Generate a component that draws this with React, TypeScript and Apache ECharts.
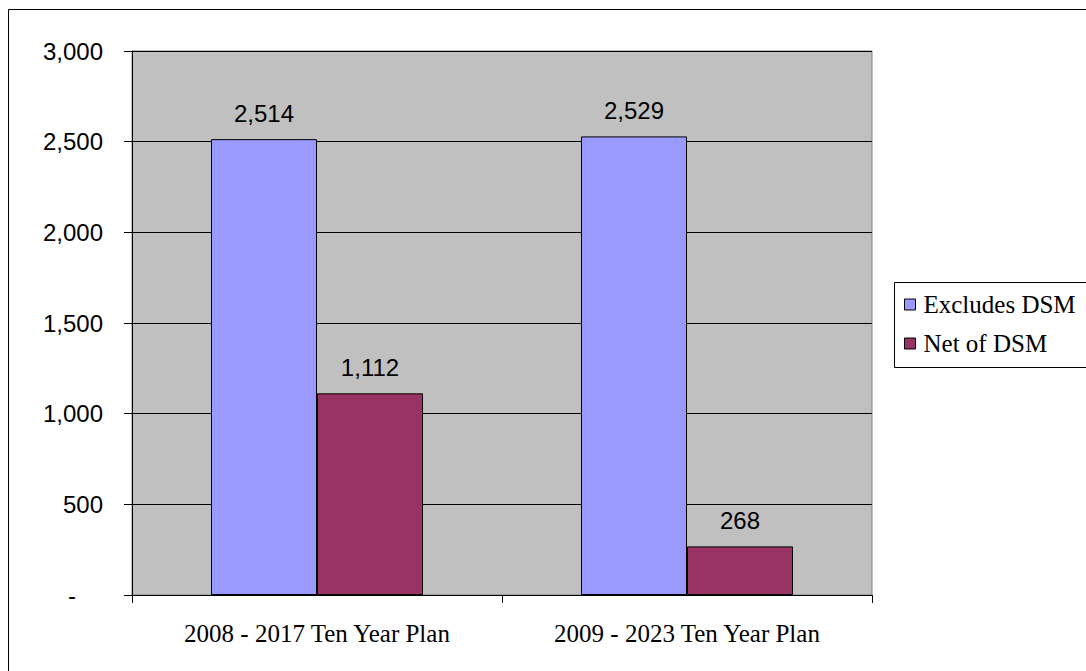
import React, { useEffect, useRef } from "react";
import * as echarts from "echarts";

const categories = ["2008 - 2017 Ten Year Plan", "2009 - 2023 Ten Year Plan"];
const seriesNames = ["Excludes DSM", "Net of DSM"];
const excludesDSM = [2514, 2529];
const netOfDSM = [1112, 268];
const seriesColors = ["#9999FF", "#993366"];
const yTicks = { min: 0, max: 3000, interval: 500 };

const fmt = (v: number) => (v === 0 ? "{d|-}" : Number(v).toLocaleString("en-US"));

export default function App() {
  const ref = useRef<HTMLDivElement>(null);
  useEffect(() => {
    if (!ref.current) return;
    const chart = echarts.init(ref.current, undefined, { renderer: "svg" });
    const dataSets = [excludesDSM, netOfDSM];
    chart.setOption({
      animation: false,
      backgroundColor: "#ffffff",
      grid: {
        left: 132,
        right: 214,
        top: 51,
        bottom: 76,
        show: true,
        backgroundColor: "#C0C0C0",
        borderColor: "#808080",
        borderWidth: 1,
      },
      graphic: [
        {
          type: "rect",
          shape: { x: 8.5, y: 9.5, width: 1100, height: 700 },
          style: { fill: "none", stroke: "#000000", lineWidth: 1 },
          silent: true,
          z: -1,
        },
        {
          type: "rect",
          shape: { x: 894.5, y: 282.5, width: 300, height: 85 },
          style: { fill: "#ffffff", stroke: "#000000", lineWidth: 1 },
          silent: true,
          z: 0,
        },
      ],
      legend: {
        orient: "vertical",
        left: 904,
        top: 292,
        padding: 0,
        itemGap: 14,
        itemWidth: 11,
        itemHeight: 11,
        icon: "rect",
        z: 10,
        textStyle: {
          fontFamily: "Liberation Serif",
          fontSize: 25,
          color: "#000000",
          padding: [0, 0, 0, 3],
        },
        itemStyle: { borderColor: "#000000", borderWidth: 1 },
        data: seriesNames,
      },
      xAxis: {
        type: "category",
        data: categories,
        axisLine: { show: true, lineStyle: { color: "#000000", width: 1 } },
        axisTick: { show: true, length: 8, lineStyle: { color: "#000000" } },
        axisLabel: {
          fontFamily: "Liberation Serif",
          fontSize: 25,
          color: "#000000",
          margin: 26,
        },
        splitLine: { show: false },
      },
      yAxis: {
        type: "value",
        min: yTicks.min,
        max: yTicks.max,
        interval: yTicks.interval,
        axisLine: { show: true, lineStyle: { color: "#000000", width: 1 } },
        axisTick: { show: true, length: 8, lineStyle: { color: "#000000" } },
        axisLabel: {
          fontFamily: "Liberation Sans",
          fontSize: 24,
          color: "#000000",
          margin: 29,
          formatter: fmt,
          rich: {
            d: {
              fontFamily: "Liberation Sans",
              fontSize: 24,
              color: "#000000",
              padding: [0, 27, 0, 0],
            },
          },
        },
        splitLine: { show: true, lineStyle: { color: "#000000", width: 1 } },
      },
      series: seriesNames.map((name, i) => ({
        name,
        type: "bar",
        data: dataSets[i],
        barWidth: 106,
        barGap: "0%",
        itemStyle: {
          color: seriesColors[i],
          borderColor: "#000000",
          borderWidth: 1,
        },
        label: {
          show: true,
          position: "top",
          distance: 14,
          fontFamily: "Liberation Sans",
          fontSize: 24,
          color: "#000000",
          formatter: (p: any) => Number(p.value).toLocaleString("en-US"),
        },
      })),
    });
    return () => chart.dispose();
  }, []);
  return (
    <div
      ref={ref}
      style={{ position: "absolute", left: 0, top: 0, width: 1086, height: 671 }}
    />
  );
}
